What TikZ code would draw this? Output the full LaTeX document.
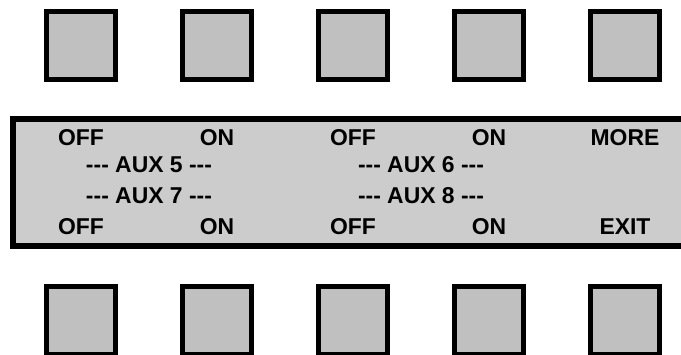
\documentclass[tikz,border=0pt]{standalone}
\usepackage{fontspec}
\setmainfont{Liberation Sans}
\usepackage{tikz}
\definecolor{keygrey}{HTML}{C0C0C0}
\definecolor{lcdgrey}{HTML}{CCCCCC}
\begin{document}
\begin{tikzpicture}[x = 1bp, y = -1bp,
    key/.style = { draw, line width = 5bp, fill = keygrey, inner sep = 0,
                   minimum width = 69bp, minimum height = 68bp },
    lcd/.style = { draw, line width = 6bp, fill = lcdgrey, inner sep = 0,
                   minimum width = 677bp, minimum height = 127bp },
    lbl/.style = { anchor = base, inner sep = 0,
                   font = \bfseries\fontsize{23}{23}\selectfont }]
    \useasboundingbox (0,0) rectangle (681,354);

    % soft keys above and below the display
    \foreach \i/\x in {1/81, 2/217, 3/353, 4/489, 5/625} {
      \node [key] (top\i) at (\x,45.5) {};
      \node [key] (bot\i) at (\x,320.5) {};
    }

    % display
    \node [lcd] (panel) at (351.5,182.5) {};

    \node [lbl] (offa) at (81,145) {OFF};
    \node [lbl] (ona)  at (217,145) {ON};
    \node [lbl] (offb) at (353,145) {OFF};
    \node [lbl] (onb)  at (489,145) {ON};
    \node [lbl] (more) at (625,145) {MORE};

    \node [lbl] (aux5) at (149,172) {-{}-{}- AUX 5 -{}-{}-};
    \node [lbl] (aux6) at (421,172) {-{}-{}- AUX 6 -{}-{}-};
    \node [lbl] (aux7) at (149,203) {-{}-{}- AUX 7 -{}-{}-};
    \node [lbl] (aux8) at (421,203) {-{}-{}- AUX 8 -{}-{}-};

    \node [lbl] (offc) at (81,234.5) {OFF};
    \node [lbl] (onc)  at (217,234.5) {ON};
    \node [lbl] (offd) at (353,234.5) {OFF};
    \node [lbl] (ond)  at (489,234.5) {ON};
    \node [lbl] (exit) at (625,234.5) {EXIT};
\end{tikzpicture}
\end{document}
